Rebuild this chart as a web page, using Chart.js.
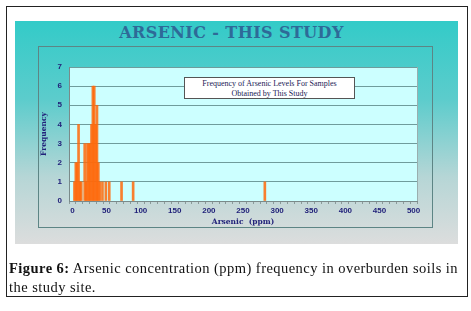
<!DOCTYPE html>
<html><head><meta charset="utf-8">
<script src="https://cdn.jsdelivr.net/npm/chart.js@4.4.1/dist/chart.umd.min.js"></script>
<style>
html,body{margin:0;padding:0;background:#fff;width:471px;height:311px;overflow:hidden;}
#outer{position:absolute;left:6px;top:6px;width:462px;height:291px;border:1px solid #222;box-sizing:border-box;}
#grad{position:absolute;left:15px;top:21px;width:443px;height:223px;background:linear-gradient(#33cbc8 0%,#5ccccc 35%,#b6d6d6 70%,#dcdddd 100%);}
#frame{position:absolute;left:38px;top:46px;width:395px;height:182px;border:1.5px solid #5d8585;box-sizing:border-box;}
#title{position:absolute;left:10px;width:443px;top:23px;text-align:center;font-family:"DejaVu Serif",serif;font-weight:bold;font-size:16px;color:#2e6a98;letter-spacing:0.4px;}
#note{position:absolute;left:184px;top:77px;width:171px;height:22px;background:#fff;border:1px solid #555;box-sizing:border-box;font-family:"Liberation Serif",serif;font-size:8px;color:#1a1a55;text-align:center;line-height:9.5px;padding-top:1px;}
#cap{position:absolute;left:9px;top:259px;font-family:"Liberation Serif","Times New Roman",serif;font-size:14.5px;color:#111;line-height:19px;white-space:nowrap;}
#cap b{font-weight:bold;}
canvas{position:absolute;left:0;top:0;}
</style></head>
<body>
<div id="outer"></div>
<div id="grad"></div>
<div id="frame"></div>
<div id="title">ARSENIC - THIS STUDY</div>
<canvas id="c" width="471" height="311"></canvas>
<div id="note">Frequency of Arsenic Levels For Samples<br>Obtained by This Study</div>
<div id="cap"><span id="l1"><b>Figure 6:</b> Arsenic concentration (ppm) frequency in overburden soils in</span><br>the study site.</div>
<script>
const arsenicPpm = [3,5,7,9,11,13,18,20,22,24,26,28,30,32,34,36,38,40,44,49,54,72,89,282];
const frequency  = [1,2,2,4,1,1,3,1,3,3,3,4,6,6,4,5,2,1,1,1,1,1,1,1];
const xTickLabels = [0,50,100,150,200,250,300,350,400,450,500];
const yTickLabels = [0,1,2,3,4,5,6,7];

const points = arsenicPpm.map((v,i)=>({x:v,y:frequency[i]}));

// fit caption line width to the reference (~449px)
(function(){
  const l1=document.getElementById('l1');
  const w=l1.getBoundingClientRect().width;
  const cap=document.getElementById('cap');
  const n=l1.textContent.length;
  cap.style.letterSpacing=((449-w)/n).toFixed(3)+'px';
})();

const plotBg = {
  id:'plotBg',
  beforeDraw(chart){
    const {ctx,chartArea:a} = chart;
    ctx.save();
    ctx.fillStyle='#ccffff';
    ctx.fillRect(a.left,a.top,a.right-a.left,a.bottom-a.top);
    ctx.strokeStyle='#9aaeae';ctx.lineWidth=1;
    ctx.strokeRect(a.left+0.5,a.top+0.5,a.right-a.left,a.bottom-a.top);
    ctx.restore();
  }
};

new Chart(document.getElementById('c'),{
  type:'bar',
  data:{datasets:[{data:points,backgroundColor:'rgba(255,104,10,0.85)',borderWidth:0,barThickness:2,grouped:false}]},
  options:{
    responsive:false,animation:false,
    layout:{padding:{left:38,top:67,right:54,bottom:83}},
    plugins:{legend:{display:false},tooltip:{enabled:false},title:{display:false}},
    scales:{
      x:{type:'linear',min:0,max:500,
        ticks:{stepSize:10,autoSkip:false,maxRotation:0,padding:2,color:'#22227a',font:{family:'Liberation Sans',size:8,weight:'bold'},
          callback:(v)=> xTickLabels.includes(v)? String(v):''},
        grid:{drawOnChartArea:false,tickLength:3,color:'#8a9a9a'},
        border:{color:'#7a8a8a',width:1},
        title:{display:true,text:'Arsenic  (ppm)',color:'#22227a',font:{family:'DejaVu Serif',size:7.5,weight:'bold'},padding:{top:0,bottom:1}},
        afterFit(s){s.height=27;}
      },
      y:{min:0,max:7,
        ticks:{stepSize:1,padding:7,color:'#22227a',font:{family:'Liberation Sans',size:8,weight:'bold'},
          callback:(v)=> yTickLabels.includes(v)? String(v):''},
        grid:{color:'#6f9c9c',lineWidth:1,tickLength:0},
        border:{color:'#7a8a8a',width:1},
        title:{display:true,text:'Frequency',color:'#22227a',font:{family:'DejaVu Serif',size:7.5,weight:'bold'},padding:{top:2,bottom:0}},
        afterFit(s){s.width=31;}
      }
    }
  },
  plugins:[plotBg]
});
</script>
</body></html>
